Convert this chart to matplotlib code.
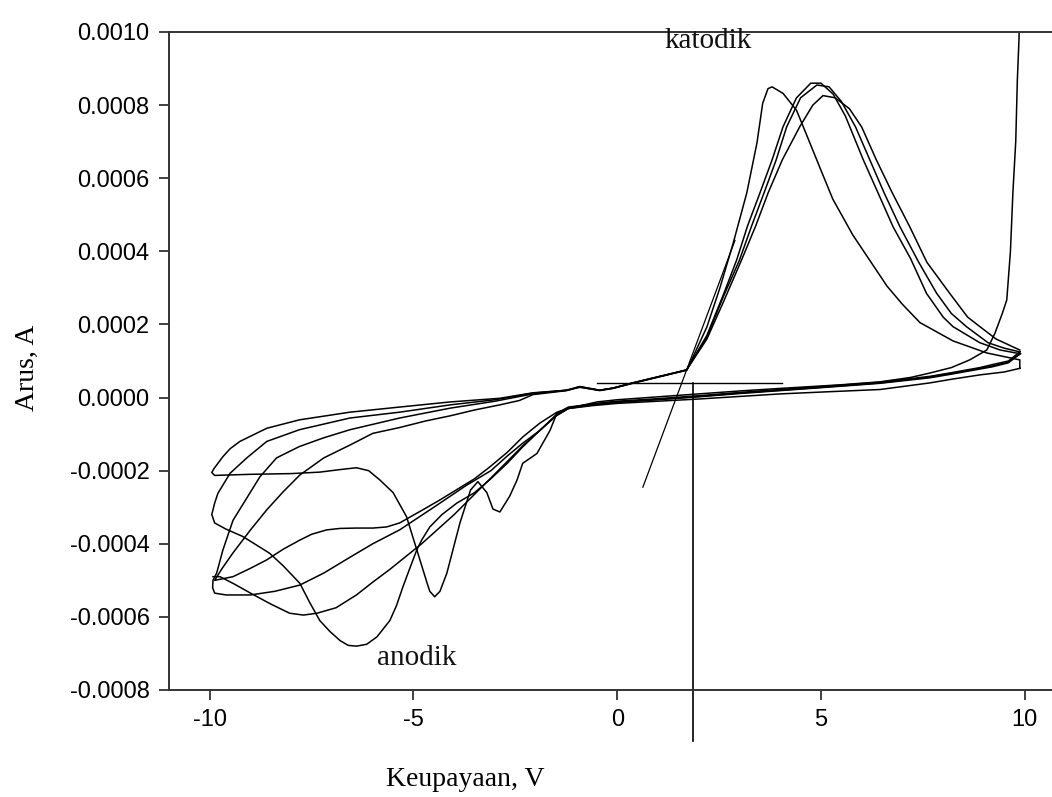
import matplotlib
matplotlib.use("Agg")
import matplotlib.pyplot as plt

# cyclic voltammogram: potential (V) and current (A)
# each cycle = reverse sweep (+10 -> -10) followed by forward sweep (-10 -> +10)
cycle1_v = [9.9, 9.6, 9.2, 8.9, 8.2, 7.67, 6.45, 5.0, 4.0, 3.0, 2.0, 1.0, 0.0, -0.6, -1.2,
            -1.48, -1.65, -1.97, -2.32, -2.46, -2.64, -2.88, -3.05, -3.2, -3.42, -3.6, -3.86,
            -4.18, -4.35, -4.48, -4.6, -4.67, -4.92, -5.17, -5.5, -5.83, -6.1, -6.4, -6.8,
            -7.3, -8.0, -9.0, -9.6, -9.88, -9.95, -9.9, -9.8, -9.68, -9.5, -9.26, -8.6, -7.8,
            -6.56, -5.34, -4.1, -2.88, -2.07, -1.24, -0.92, -0.43, -0.1, 0.38, 1.2, 1.7,
            2.2, 2.6, 3.05, 3.4, 3.7, 4.05, 4.48, 4.8, 5.05, 5.35, 5.7, 6.0, 6.36, 6.75,
            7.18, 7.6, 8.16, 8.6, 8.9, 9.3, 9.88]
cycle1_i = [0.00012, 0.000097, 0.000086, 0.00008, 0.000066, 0.000056, 0.00004, 0.000028,
            0.00002, 0.000012, 0.000003, -0.000005, -0.000012, -0.000018, -0.000026,
            -0.000043, -0.00009, -0.000153, -0.00018, -0.000226, -0.00027, -0.000313,
            -0.000305, -0.00026, -0.00023, -0.000253, -0.000343, -0.00048, -0.00053,
            -0.000545, -0.00053, -0.000506, -0.000416, -0.000326, -0.00026, -0.000225,
            -0.0002, -0.000192, -0.000197, -0.000204, -0.000208, -0.00021, -0.000212,
            -0.000213, -0.000205, -0.000195, -0.00018, -0.000162, -0.00014, -0.00012,
            -0.000084, -0.000061, -0.00004, -0.000026, -0.000012, -0.000002, 0.000013,
            0.00002, 0.00003, 0.00002, 0.000026, 0.00004, 0.000062, 0.000075,
            0.00016, 0.00026, 0.000376, 0.00047, 0.000559, 0.00065, 0.000741, 0.0008,
            0.000826, 0.00082, 0.00079, 0.00074, 0.00065, 0.00056, 0.000467, 0.00037,
            0.000285, 0.00022, 0.000194, 0.00016, 0.00013]

cycle2_v = [9.88, 9.6, 9.2, 8.9, 8.2, 7.67, 6.45, 5.0, 4.0, 3.0, 2.0, 1.0, 0.0, -0.6, -1.2,
            -1.48, -1.9, -2.32, -2.7, -3.13, -3.5, -3.94, -4.3, -4.6, -4.8, -4.92, -5.1,
            -5.26, -5.42, -5.58, -5.9, -6.15, -6.4, -6.6, -6.8, -7.05, -7.3, -7.55, -7.79,
            -8.2, -8.53, -9.19, -9.6, -9.88, -9.95, -9.88, -9.8, -9.5, -9.09, -8.6, -7.8,
            -6.56, -5.34, -4.1, -3.0, -2.07, -1.24, -0.92, -0.43, -0.1, 0.38, 1.2, 1.7,
            2.2, 2.6, 3.0, 3.3, 3.6, 3.9, 4.16, 4.5, 4.9, 5.2, 5.5, 5.85, 6.2, 6.55, 6.94,
            7.4, 7.84, 8.2, 8.57, 9.1, 9.5, 9.88]
cycle2_i = [0.000125, 0.0001, 0.00009, 0.000082, 0.000068, 0.000058, 0.000042, 0.00003,
            0.000022, 0.000014, 0.000005, -0.000003, -0.00001, -0.000017, -0.000028,
            -0.000045, -0.00009, -0.000135, -0.00018, -0.000225, -0.00026, -0.000289,
            -0.00032, -0.000354, -0.00039, -0.000417, -0.00047, -0.000518, -0.00057,
            -0.00061, -0.000655, -0.000675, -0.00068, -0.000678, -0.000665, -0.00064,
            -0.00061, -0.00056, -0.000508, -0.00046, -0.000426, -0.00038, -0.00036,
            -0.000343, -0.00032, -0.000289, -0.000262, -0.000207, -0.000165, -0.00012,
            -0.000088, -0.000056, -0.00004, -0.00002, -0.000006, 0.000012, 0.00002,
            0.000028, 0.00002, 0.000026, 0.00004, 0.000062, 0.000076,
            0.000165, 0.000275, 0.000376, 0.00047, 0.000559, 0.00065, 0.000741, 0.00082,
            0.000855, 0.00085, 0.00081, 0.00074, 0.00065, 0.00056, 0.000467, 0.00037,
            0.000285, 0.00023, 0.000194, 0.00015, 0.000135, 0.000125]

cycle3_v = [9.88, 9.6, 9.2, 8.9, 8.2, 7.67, 6.45, 5.0, 4.0, 3.0, 2.0, 1.0, 0.0, -0.6, -1.2,
            -1.48, -1.9, -2.32, -2.7, -3.13, -3.5, -3.94, -4.35, -4.77, -5.34, -5.66, -6.0,
            -6.4, -6.8, -7.13, -7.5, -7.79, -8.2, -8.6, -9.0, -9.43, -9.88, -9.7, -9.43,
            -9.0, -8.6, -8.2, -7.79, -7.2, -6.56, -6.0, -5.34, -4.7, -4.1, -3.5, -2.88,
            -2.4, -2.07, -1.24, -0.92, -0.43, -0.1, 0.38, 1.2, 1.7,
            2.2, 2.6, 2.93, 3.2, 3.5, 3.8, 4.07, 4.4, 4.75, 5.0, 5.3, 5.6, 6.04, 6.4, 6.77,
            7.2, 7.59, 8.0, 8.24, 8.9, 9.4, 9.88]
cycle3_i = [0.00012, 0.000095, 0.000084, 0.000078, 0.000064, 0.000054, 0.000039, 0.000027,
            0.000019, 0.000011, 0.000002, -0.000006, -0.000013, -0.00002, -0.00003,
            -0.00004, -0.00007, -0.000108, -0.00015, -0.00019, -0.000222, -0.000252,
            -0.00028, -0.000307, -0.000343, -0.000354, -0.000357, -0.000357, -0.000358,
            -0.000362, -0.000374, -0.00039, -0.000415, -0.000444, -0.000467, -0.00049,
            -0.0005, -0.000468, -0.000425, -0.000362, -0.000307, -0.000258, -0.000212,
            -0.000165, -0.00013, -0.000098, -0.000082, -0.000064, -0.00005, -0.000034,
            -0.00002, -0.000008, 0.000008, 0.000019, 0.000029, 0.000019, 0.000025,
            0.000039, 0.000061, 0.000075,
            0.00017, 0.00028, 0.000376, 0.00047, 0.000559, 0.00065, 0.000741, 0.00082,
            0.00086, 0.00086, 0.00083, 0.00077, 0.00065, 0.00056, 0.000467, 0.00038,
            0.000285, 0.00022, 0.000194, 0.00015, 0.00013, 0.00012]

cycle4_v = [9.88, 9.5, 8.9, 8.2, 7.67, 6.45, 5.0, 4.0, 3.0, 2.0, 1.0, 0.0, -0.6, -1.2, -1.5,
            -1.9, -2.32, -2.7, -3.1, -3.7, -4.5, -5.34, -6.0, -6.56, -7.2, -7.79, -8.4, -9.0,
            -9.6, -9.88, -9.93, -9.92, -9.83, -9.68, -9.43, -9.02, -8.77, -8.36, -7.8, -7.2,
            -6.56, -5.34, -4.1, -3.0, -2.07, -1.24, -0.92, -0.43, -0.1, 0.38, 1.2, 1.71,
            2.2, 2.52, 2.84, 3.18, 3.43, 3.57, 3.7, 3.8, 4.07, 4.4, 4.73, 4.97, 5.29, 5.78,
            6.2, 6.62, 7.0, 7.43, 8.24, 9.07, 9.88, 9.88]
cycle4_i = [0.00008, 0.00007, 0.000062, 0.00005, 0.00004, 0.000022, 0.000015, 0.00001,
            0.000003, -0.000004, -0.00001, -0.000016, -0.000022, -0.00003, -0.00005,
            -0.00009, -0.000125, -0.00016, -0.0002, -0.00024, -0.0003, -0.000362, -0.0004,
            -0.000437, -0.00048, -0.000513, -0.00053, -0.00054, -0.00054, -0.000535,
            -0.00052, -0.0005, -0.00048, -0.000418, -0.000336, -0.000262, -0.000217,
            -0.000165, -0.000134, -0.00011, -0.000088, -0.000056, -0.000029, -0.00001,
            0.00001, 0.00002, 0.00003, 0.00002, 0.000026, 0.00004, 0.000062, 0.000075,
            0.000193, 0.0003, 0.00042, 0.00056, 0.000697, 0.000805, 0.000845, 0.00085,
            0.000832, 0.000786, 0.000696, 0.00063, 0.000543, 0.000445, 0.000375, 0.000305,
            0.000255, 0.000205, 0.000155, 0.000122, 0.000103, 0.00008]

# last forward sweep, ends in the steep rise near +10 V
final_v = [-9.92, -9.75, -9.4, -9.0, -8.5, -8.04, -7.7, -7.37, -6.9, -6.4, -6.0, -5.58, -4.8,
           -4.0, -3.1, -2.3, -1.5, -1.2, -0.5, 0.0, 1.0, 2.0, 3.0, 4.0, 5.5, 6.45, 7.2, 7.67,
           8.2, 8.65, 9.07, 9.27, 9.45, 9.56, 9.65, 9.71, 9.78, 9.82, 9.86, 9.88]
final_i = [-0.00049, -0.00049, -0.00051, -0.000535, -0.000565, -0.00059, -0.000595, -0.00059,
           -0.000575, -0.00054, -0.000505, -0.00047, -0.0004, -0.00032, -0.00022, -0.00013,
           -0.00005, -0.00003, -0.000012, -0.000006, 0.000002, 0.00001, 0.000018, 0.000025,
           0.000035, 0.000043, 0.000055, 0.000067, 0.000082, 0.000103, 0.00013, 0.000176,
           0.00023, 0.000267, 0.0004, 0.00056, 0.0007, 0.00087, 0.00098, 0.0011]

# construction lines for the onset potential
tangent_v = [0.63, 2.89]
tangent_i = [-0.000245, 0.00043]
base_v = [-0.5, 4.04]
base_i = [0.00004, 0.00004]
onset_v = [1.85, 1.85]
onset_i = [0.00004, -0.00094]

x_ticks = [-10, -5, 0, 5, 10]
y_ticks = [-0.0008, -0.0006, -0.0004, -0.0002, 0.0, 0.0002, 0.0004, 0.0006, 0.0008, 0.0010]
y_labels = ["-0.0008", "-0.0006", "-0.0004", "-0.0002", "0.0000",
            "0.0002", "0.0004", "0.0006", "0.0008", "0.0010"]

serif = ["Liberation Serif", "DejaVu Serif"]
sans = ["Liberation Sans", "DejaVu Sans"]

fig = plt.figure(figsize=(10.52, 7.97), dpi=100)
ax = fig.add_axes([169 / 1052, 107 / 797, 883 / 1052, 658 / 797])

for v, i in [(cycle1_v, cycle1_i), (cycle2_v, cycle2_i), (cycle3_v, cycle3_i),
             (cycle4_v, cycle4_i), (final_v, final_i)]:
    ax.plot(v, i, color="black", lw=1.1)

ax.plot(tangent_v, tangent_i, color="black", lw=0.9)
ax.plot(base_v, base_i, color="black", lw=1.0)
ax.plot(onset_v, onset_i, color="black", lw=1.2, clip_on=False)

ax.set_xlim(-11, 10.67)
ax.set_ylim(-0.0008, 0.0010)
ax.set_xticks(x_ticks)
ax.set_xticklabels([str(t) for t in x_ticks], fontfamily=sans, fontsize=17)
ax.set_yticks(y_ticks)
ax.set_yticklabels(y_labels, fontfamily=sans, fontsize=17)
ax.spines["right"].set_visible(False)
for s in ["left", "top", "bottom"]:
    ax.spines[s].set_color("#333333")
    ax.spines[s].set_linewidth(1.4)
ax.tick_params(direction="out", length=7, width=1.3, color="#333333", pad=7)

ax.text(1.17, 0.000975, "katodik", fontfamily=serif, fontsize=21, va="center", color="#111111")
ax.text(-5.9, -0.000712, "anodik", fontfamily=serif, fontsize=21, va="center", color="#111111")

fig.text(27 / 1052, 1 - 368 / 797, "Arus, A", rotation=90, ha="center", va="center",
         fontfamily=serif, fontsize=20)
fig.text(465 / 1052, 1 - 780 / 797, "Keupayaan, V", ha="center", va="center",
         fontfamily=serif, fontsize=20)

fig.savefig("out.png", dpi=100)
